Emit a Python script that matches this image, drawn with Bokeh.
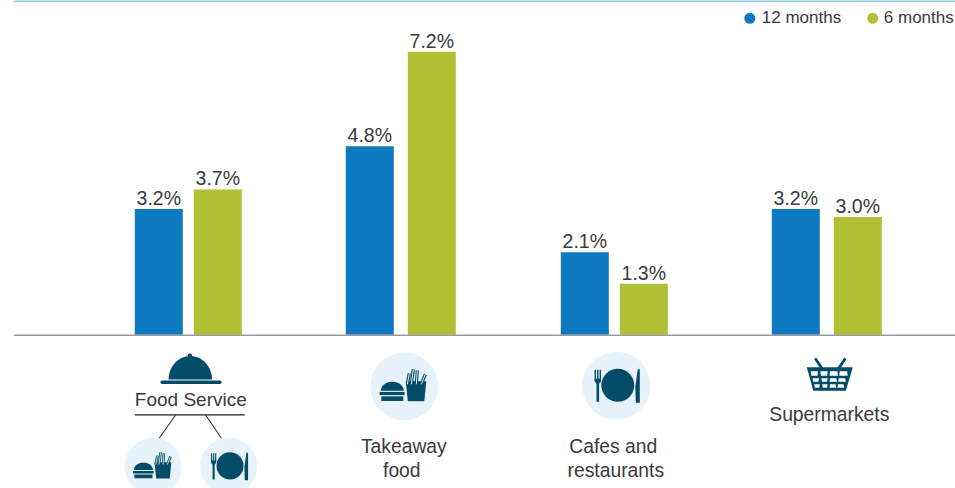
from bokeh.embed import file_html
from bokeh.models import ColumnDataSource, Range1d
from bokeh.plotting import figure
from bokeh.resources import INLINE
from bokeh.core.properties import value
import numpy as np

# Growth by food retail category
categories = ["Food Service", "Takeaway food", "Cafes and restaurants", "Supermarkets"]
months_12 = [3.2, 4.8, 2.1, 3.2]
months_6 = [3.7, 7.2, 1.3, 3.0]
series_names = ["12 months", "6 months"]

# Layout, in page pixels
W, H = 955, 488
BASE_Y, PX_PER_UNIT = 334.3, 39.3
LEFT_12 = [135, 346, 561, 772]
LEFT_6 = [194, 408, 620, 834]
BAR_W = 48
BLUE, GREEN = "#0c79c1", "#b1bf35"
NAVY, PALE, INK = "#034c69", "#e8f2fb", "#3a3a3a"
FONT = value("Liberation Sans")
TEXT_SHIFT = 7  # rendered baseline sits this far below the anchor
PAD = 0.7       # nudge so page pixels land on whole device pixels

p = figure(width=W, height=H, output_backend="svg", toolbar_location=None,
           x_range=Range1d(PAD, W + PAD), y_range=Range1d(H + PAD, PAD), min_border=0,
           outline_line_color=None, border_fill_color="white")
p.xaxis.visible = False
p.yaxis.visible = False
p.grid.visible = False
p.extra_y_ranges["pct"] = Range1d((BASE_Y - H) / PX_PER_UNIT, BASE_Y / PX_PER_UNIT)


def put_text(x, y, text, size=18, align="center", color=INK):
    p.text([x], [y - TEXT_SHIFT], text=[text], text_font=FONT, text_font_size=f"{size}px",
           text_align=align, text_baseline="alphabetic", text_color=color)


# Bars and their value labels
for lefts, vals, color in ((LEFT_12, months_12, BLUE), (LEFT_6, months_6, GREEN)):
    centers = [l + BAR_W / 2 for l in lefts]
    src = ColumnDataSource(dict(x=centers, top=vals,
                                label=[f"{v:.1f}%" for v in vals]))
    p.vbar(x="x", width=BAR_W, bottom=0, top="top", source=src, color=color,
           line_color=None, y_range_name="pct")
    p.text(x="x", y="top", text="label", source=src, y_range_name="pct",
           y_offset=-4.2 - TEXT_SHIFT, text_font=FONT, text_font_size="19.5px",
           text_align="center", text_baseline="alphabetic", text_color=INK)

# Rules
p.line([14, W + 2], [335.5, 335.5], line_color="#9a9a9a", line_width=1.5)
p.line([14, W + 2], [1.2, 1.2], line_color="#62b5e5", line_width=1.5)

# Legend
p.scatter([750], [18.5], size=11, color=BLUE, line_color=None)
put_text(762, 25, series_names[0], 17, "left")
p.scatter([873], [18.5], size=11, color=GREEN, line_color=None)
put_text(884, 25, series_names[1], 17, "left")


def poly(xs, ys, color=NAVY):
    p.patch(xs, ys, fill_color=color, line_color=None)


def burger_and_fries(cx, cy, s):
    """Burger beside a carton of fries, centred on a pale disc."""
    def rect(x0, x1, y0, y1, color=NAVY):
        poly([cx + x0 * s, cx + x1 * s, cx + x1 * s, cx + x0 * s],
             [cy + y0 * s, cy + y0 * s, cy + y1 * s, cy + y1 * s], color)
    t = np.linspace(np.pi, 2 * np.pi, 20)
    poly(list(cx + s * (-12 + 11.5 * np.cos(t))), list(cy + s * (4.5 + 9 * np.sin(t))))
    rect(-24.7, 0.3, 5.6, 8.8)
    rect(-23, -1, 10, 14.7)
    poly([cx + 1.5 * s, cx + 22 * s, cx + 20 * s, cx + 3.5 * s],
         [cy - 5 * s, cy - 5 * s, cy + 15 * s, cy + 15 * s])
    for x0, x1, top in ((3, 5, -13), (7, 9, -17), (12, 13, -16), (17, 21, -12)):
        fx = [cx + x0 * s, cx + x1 * s]
        p.line(fx, [cy - 2 * s, cy + top * s], line_color=NAVY, line_width=3.2 * s)
        p.line(fx, [cy - 2 * s, cy + top * s], line_color=PALE, line_width=1.0 * s)


def plate_setting(cx, cy, s):
    """Plate with a fork to its left and a knife to its right."""
    p.scatter([cx + 1.5 * s], [cy - 0.5 * s], size=33 * s, color=NAVY, line_color=None)
    p.line([cx - 18.5 * s] * 2, [cy - 6 * s, cy + 16 * s], line_color=NAVY, line_width=2.6 * s)
    for dx in (-21, -18.5, -16):
        p.line([cx + dx * s] * 2, [cy - 16 * s, cy - 5 * s], line_color=NAVY, line_width=1.4 * s)
    poly([cx - 21.5 * s, cx - 15.5 * s, cx - 15.5 * s, cx - 18.5 * s, cx - 21.5 * s],
         [cy - 7 * s, cy - 7 * s, cy - 4 * s, cy - 1 * s, cy - 4 * s])
    poly([cx + 19 * s, cx + 21.5 * s, cx + 23.5 * s, cx + 23.5 * s, cx + 19.5 * s],
         [cy + 1 * s, cy - 16.5 * s, cy - 16.5 * s, cy + 17 * s, cy + 17 * s])


# Food Service group: cloche, rule, branches, two sub-category discs
t = np.linspace(np.pi, 2 * np.pi, 40)
poly(list(190.5 + 21.7 * np.cos(t)), list(379.7 + 23.5 * np.sin(t)))
p.scatter([190], [356], size=4.5, color=NAVY, line_color=None)
p.line([162.5, 220], [382.4, 382.4], line_color=NAVY, line_width=3.6, line_cap="round")
put_text(191, 407, categories[0], 19)
p.line([135, 245], [415, 415], line_color="#222222", line_width=1.2)
p.line([175.7, 159.3], [415.5, 438.5], line_color="#333333", line_width=1.1)
p.line([206, 221.7], [415.5, 438.5], line_color="#333333", line_width=1.1)
p.scatter([153.5, 229], [466.5, 466.5], size=57, color=PALE, line_color=None)
burger_and_fries(153.5, 466.5, 0.82)
plate_setting(229, 466.5, 0.82)

# Takeaway food
p.scatter([404.5], [386.5], size=68, color=PALE, line_color=None)
burger_and_fries(404.5, 386.5, 1.0)
put_text(404, 454, "Takeaway", 19.3)
put_text(402, 478, "food", 19.3)

# Cafes and restaurants
p.scatter([616.5], [386], size=68, color=PALE, line_color=None)
plate_setting(616.5, 386, 1.0)
put_text(613.5, 454, "Cafes and", 19.3)
put_text(616, 478, "restaurants", 19.3)

# Supermarkets basket
poly([807, 853, 846, 813.5], [367.5, 367.5, 391, 391])
for y0, y1 in ((371.5, 376), (378.5, 382), (384.5, 388)):
    inset = (y0 - 367.5) / 23.5 * 6.5
    for c in range(4):
        a0 = 807 + inset + 2.8 + c * (46 - 2 * inset - 5) / 4
        a1 = a0 + (46 - 2 * inset - 5) / 4 - 2.4
        poly([a0, a1, a1 - 0.6 * (c < 2) + 0.6 * (c >= 2), a0 + 0.6 * (c < 2) - 0.6 * (c >= 2)],
             [y0, y0, y1, y1], "white")
p.line([816, 821.7], [359.5, 368], line_color=NAVY, line_width=2.8, line_cap="round")
p.line([845, 839.3], [359.5, 368], line_color=NAVY, line_width=2.8, line_cap="round")
put_text(829.5, 422, categories[3], 19.3)

open("out.html", "w").write(file_html(p, INLINE))
